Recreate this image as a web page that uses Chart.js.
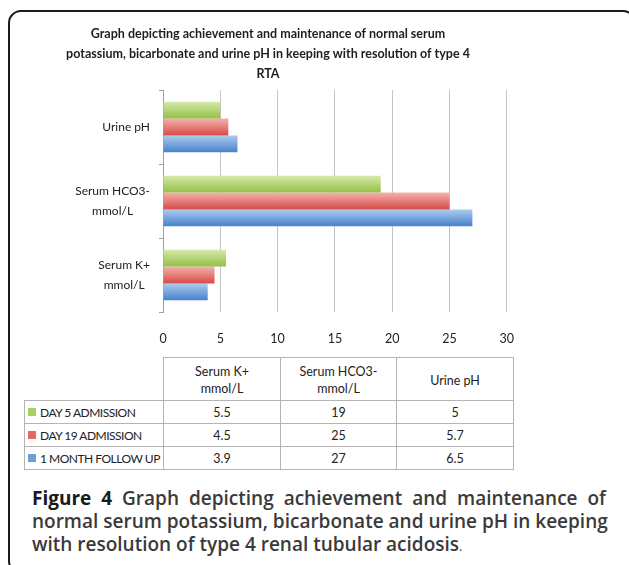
<!DOCTYPE html>
<html>
<head>
<meta charset="utf-8">
<script src="https://cdn.jsdelivr.net/npm/chart.js@4.4.0/dist/chart.umd.min.js"></script>
<style>
  html, body { margin: 0; padding: 0; background: #fff; }
  body { width: 629px; height: 565px; position: relative; overflow: hidden; font-family: Lato, sans-serif; }
  #frame { position: absolute; left: 8px; top: 10px; width: 624px; height: 560px; border: 2px solid #1c1c1c; border-radius: 13px; }
  #myChart { position: absolute; left: 0; top: 0; }
  #dataTable { position: absolute; left: 24px; top: 357px; width: 489px; border-collapse: collapse; table-layout: fixed; font-size: 12.5px; color: #222; }
  #dataTable td { border: 1px solid #b4b4b4; text-align: center; padding: 0; height: 22px; line-height: 17px; }
  #dataTable tr.head td { height: 40px; padding-top: 2px; }
  #dataTable td.blank { border: none; }
  #dataTable td.name { text-align: left; padding-left: 3px; white-space: nowrap; font-size: 12px; letter-spacing: -0.5px; overflow: hidden; }
  .key { display: inline-block; width: 8px; height: 8px; margin-right: 4px; vertical-align: 1px; }
  #caption { position: absolute; left: 32px; top: 487px; width: 574px; font-family: "Open Sans", sans-serif; font-size: 19px; font-weight: 600; color: #3a3a3a; line-height: 23px; }
  #caption div { text-align: justify; text-align-last: justify; white-space: nowrap; }
  #caption div.last { text-align-last: left; }
  #caption b { color: #1a1a1a; font-weight: 700; }
</style>
</head>
<body>
<div id="frame"></div>
<canvas id="myChart" width="518" height="352"></canvas>
<table id="dataTable"></table>
<div id="caption">
  <div><b>Figure 4</b> Graph depicting achievement and maintenance of</div>
  <div>normal serum potassium, bicarbonate and urine pH in keeping</div>
  <div class="last">with resolution of type 4 renal tubular acidosis<span style="font-weight:400;font-size:13px">.</span></div>
</div>
<script>
const categories = [['Serum K+', 'mmol/L'], ['Serum HCO3-', 'mmol/L'], ['Urine pH']]
const seriesNames = ['DAY 5 ADMISSION', 'DAY 19 ADMISSION', '1 MONTH FOLLOW UP']
const day5 = [5.5, 19, 5]
const day19 = [4.5, 25, 5.7]
const month1 = [3.9, 27, 6.5]
const xMax = 30
const xStep = 5

const keyColors = ['#a9cf62', '#e26a66', '#6a9fdb']
const shadeTop = ['#d6e9ab', '#f5b1ad', '#aecbee']
const shadeBottom = ['#93bf47', '#d64b46', '#4683cb']

// excel style vertical gradient on each bar
const barShade = {
    id: 'barShade',
    beforeDatasetsDraw(chart) {
        const ctx = chart.ctx
        chart.data.datasets.forEach((ds, i) => {
            chart.getDatasetMeta(i).data.forEach(bar => {
                const top = bar.y - bar.height / 2
                const g = ctx.createLinearGradient(0, top, 0, top + bar.height)
                g.addColorStop(0, shadeTop[i])
                g.addColorStop(1, shadeBottom[i])
                bar.options.backgroundColor = g
            })
        })
    }
}

// category labels: block right aligned, lines centred inside it
const yLabels = {
    id: 'yLabels',
    afterDraw(chart) {
        const ctx = chart.ctx
        const y = chart.scales.y
        ctx.save()
        ctx.font = '12px Lato'
        ctx.fillStyle = '#222'
        ctx.textAlign = 'center'
        ctx.textBaseline = 'middle'
        categories.forEach((lines, i) => {
            const w = Math.max(...lines.map(s => ctx.measureText(s).width))
            const cx = chart.chartArea.left - 13 - w / 2
            const cy = y.getPixelForValue(i)
            lines.forEach((s, k) => ctx.fillText(s, cx, cy + (k - (lines.length - 1) / 2) * 19.5))
        })
        ctx.restore()
    }
}

const ctx1 = document.getElementById('myChart')

new Chart(ctx1, {
    type: 'bar',
    data: {
        labels: categories,
        datasets: [day5, day19, month1].map((d, i) => ({
            label: seriesNames[i],
            data: d,
            borderWidth: 0,
            backgroundColor: c => keyColors[c.datasetIndex],
        }))
    },
    plugins: [barShade, yLabels],
    options: {
        indexAxis: 'y',
        responsive: false,
        animation: false,
        devicePixelRatio: 1,
        barPercentage: 1,
        categoryPercentage: 0.68,
        layout: { padding: { top: 0, left: 29, right: 11, bottom: 0 } },
        scales: {
            x: {
                min: 0,
                max: xMax,
                afterFit: s => { s.height = 40 },
                border: { display: false },
                grid: { color: '#c4c4c4', drawTicks: true, tickLength: 15, tickColor: 'rgba(0,0,0,0)' },
                ticks: {
                    stepSize: xStep,
                    color: '#222',
                    padding: 4,
                    font: { size: 12.5, family: 'Lato' },
                },
            },
            y: {
                reverse: true,
                afterFit: s => { s.width = 134 },
                border: { display: true, color: '#a0a0a0' },
                grid: { drawOnChartArea: false, tickLength: 4, color: '#a0a0a0' },
                ticks: { display: false },
            },
        },
        plugins: {
            title: {
                display: true,
                text: ['Graph depicting achievement and maintenance of normal serum',
                    'potassium, bicarbonate and urine pH in keeping with resolution of type 4',
                    'RTA'],
                color: '#1e1e1e',
                font: { size: 12.5, weight: 'bold', family: 'Lato', lineHeight: 1.6 },
                padding: { top: 24, bottom: 6 },
            },
            legend: { display: false },
            tooltip: { enabled: false },
        },
    },
})

// data table under the axis
const table = document.getElementById('dataTable')
let html = '<colgroup><col style="width:139px"><col style="width:117px"><col style="width:116px"><col style="width:117px"></colgroup>'
html += '<tr class="head"><td class="blank"></td>' + categories.map(c => '<td>' + c.join('<br>') + '</td>').join('') + '</tr>'
;[day5, day19, month1].forEach((d, i) => {
    html += '<tr><td class="name"><span class="key" style="background:' + keyColors[i] + '"></span>' + seriesNames[i] + '</td>'
        + d.map(v => '<td>' + v + '</td>').join('') + '</tr>'
})
table.innerHTML = html
</script>
</body>
</html>
